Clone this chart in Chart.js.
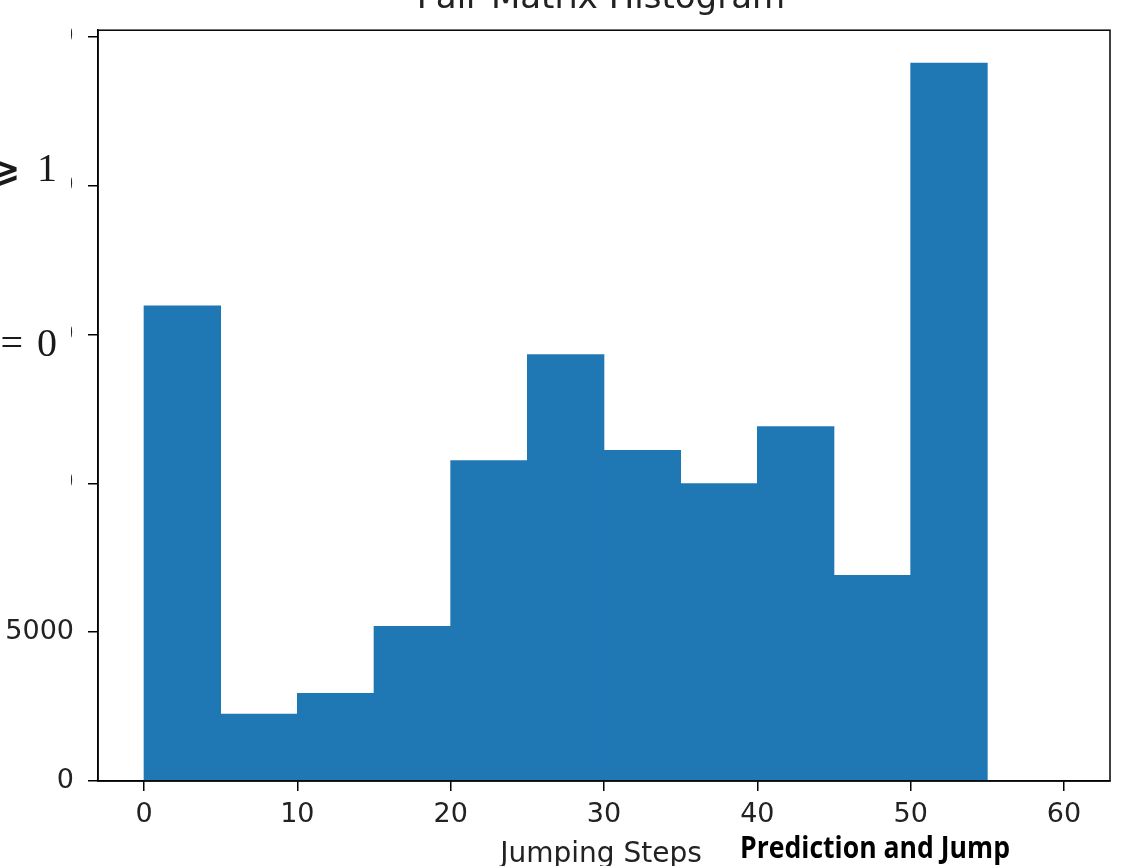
<!DOCTYPE html>
<html>
<head>
<meta charset="utf-8">
<script src="https://cdn.jsdelivr.net/npm/chart.js@4/dist/chart.umd.min.js"></script>
<style>
  html, body { margin: 0; padding: 0; background: #fff; }
  #wrap { width: 1130px; height: 866px; }
</style>
</head>
<body>
<div id="wrap"><canvas id="chartJSContainer" width="1130" height="866"></canvas></div>
<script>
// histogram bins (Jumping Steps) and their counts
var binStarts = [0, 5, 10, 15, 20, 25, 30, 35, 40, 45, 50, 55];
var binWidth = 5;
var counts = [15970, 2250, 2950, 5200, 10770, 14330, 11110, 10000, 11910, 6910, 24130, 0];
var xTicks = [0, 10, 20, 30, 40, 50, 60];
var yTicks = [0, 5000, 10000, 15000, 20000, 25000];

var tickFont = { family: "'DejaVu Sans', sans-serif", size: 27 };

var points = binStarts.map(function (s, i) {
  return { x: s + binWidth / 2, y: counts[i] };
});

// title, axis label and the pasted-over bits of the page
var decorations = {
  id: "decorations",
  afterDraw: function (chart) {
    var c = chart.ctx;
    var a = chart.chartArea;
    c.save();
    c.strokeStyle = "#000";
    c.lineWidth = 1.5;
    c.strokeRect(a.left, a.top, a.right - a.left, a.bottom - a.top);

    c.fillStyle = "#222";
    c.textAlign = "center";
    c.textBaseline = "alphabetic";
    c.font = "34px 'DejaVu Sans', sans-serif";
    c.fillText("Pair Matrix Histogram", 601, 8);

    c.font = "28px 'DejaVu Sans', sans-serif";
    c.fillText("Jumping Steps", 601, 862);

    // white patch hiding most of the upper y labels
    c.fillStyle = "#fff";
    c.fillRect(0, 0, 71, 612);

    c.fillStyle = "#1a1a1a";
    c.textAlign = "right";
    c.font = "50px 'DejaVu Serif', 'Liberation Serif', serif";
    c.fillText("\u2A7E", 22, 185);
    c.font = "40px 'Liberation Serif', 'DejaVu Serif', serif";
    c.fillText("=", 23, 356);
    c.textAlign = "left";
    c.fillText("1", 37, 181);
    c.fillText("0", 37, 356);

    c.fillStyle = "#000";
    c.font = "bold 30px 'Liberation Sans Narrow', 'Open Sans', sans-serif";
    c.fillText("Prediction and Jump", 740, 858, 270);
    c.restore();
  }
};

var options = {
  type: "bar",
  data: {
    datasets: [
      {
        label: "Count",
        data: points,
        backgroundColor: "#1f77b4",
        borderWidth: 0,
        barPercentage: 1.0,
        categoryPercentage: 1.0,
      },
    ],
  },
  options: {
    responsive: false,
    animation: false,
    layout: { padding: { top: 27, right: 20, left: 0, bottom: 0 } },
    plugins: {
      legend: { display: false },
      tooltip: { enabled: false },
    },
    scales: {
      x: {
        type: "linear",
        min: -3,
        max: 63,
        offset: false,
        afterBuildTicks: function (scale) {
          scale.ticks = xTicks.map(function (v) { return { value: v }; });
        },
        afterFit: function (scale) { scale.height = 85; },
        grid: { offset: false, drawOnChartArea: false, color: "#000", lineWidth: 1.5, tickLength: 10 },
        border: { display: true, color: "#000", width: 1.5 },
        ticks: {
          font: tickFont, color: "#222", padding: 8, maxRotation: 0,
          callback: function (v) { return String(v); },
        },
      },
      y: {
        min: 0,
        max: 25235,
        afterBuildTicks: function (scale) {
          scale.ticks = yTicks.map(function (v) { return { value: v }; });
        },
        afterFit: function (scale) { scale.width = 98; },
        grid: { drawOnChartArea: false, color: "#000", lineWidth: 1.5, tickLength: 10 },
        border: { display: true, color: "#000", width: 1.5 },
        ticks: {
          font: tickFont, color: "#222", padding: 14,
          callback: function (v) { return String(v); },
        },
      },
    },
  },
  plugins: [decorations],
};

var ctx = document.getElementById("chartJSContainer").getContext("2d");
var myChart = new Chart(ctx, options);
</script>
</body>
</html>
